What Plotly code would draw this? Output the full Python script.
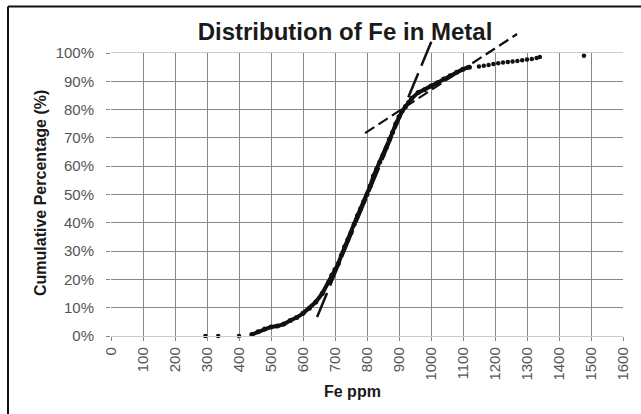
import plotly.graph_objects as go

# ---- data ----
isolated_fe = [295, 335, 400]
isolated_pct = [0, 0, 0]

curve_fe = [440, 460, 480, 500, 520, 540, 560, 580, 600, 620, 640, 660, 680, 690,
            700, 710, 720, 730, 740, 750, 760, 770, 780, 790, 800, 810, 820, 830,
            840, 850, 860, 870, 880, 890, 900, 910, 920, 930, 940, 960, 980, 1000,
            1020, 1040, 1060, 1080, 1100, 1120]
curve_pct = [0.5, 1.5, 2.5, 3.2, 3.5, 4.2, 5.5, 6.5, 8.0, 9.8, 12.0, 15.0, 19.0, 21.5,
             23.5, 25.5, 28.5, 31.5, 34.0, 36.5, 39.5, 42.5, 45.0, 47.5, 50.0, 53.0, 56.5, 59.0,
             61.5, 64.0, 66.5, 69.5, 72.0, 75.0, 77.5, 79.5, 81.0, 82.5, 84.0, 86.0, 87.0, 88.3,
             89.5, 90.8, 92.0, 93.2, 94.3, 95.0]

tail_fe = [1150, 1165, 1180, 1195, 1210, 1225, 1240, 1255, 1270, 1285, 1300, 1315, 1330, 1340, 1478]
tail_pct = [95.2, 95.5, 95.8, 96.1, 96.4, 96.6, 96.8, 97.0, 97.2, 97.4, 97.7, 97.9, 98.2, 98.6, 99.0]

steep_fe = [644, 1003]
steep_pct = [6.7, 104.5]
shallow_fe = [794, 1269]
shallow_pct = [71.7, 106.7]

x_ticks = list(range(0, 1700, 100))
y_ticks = list(range(0, 110, 10))
y_labels = [f"{v}%" for v in y_ticks]

# ---- layout geometry ----
W, H = 641, 414
ML, MR, MT, MB = 111, 18, 30, 78
plot_h = H - MT - MB
main_top = 283 / plot_h  # fraction of plotting height used by 0-100 %

FONT = "Liberation Sans, Arial, sans-serif"
GRID = "#878787"
FRAME = "#cccccc"

fig = go.Figure()

fig.add_trace(go.Scatter(x=isolated_fe, y=isolated_pct, mode="markers",
                         marker=dict(color="#111", size=4.5), xaxis="x", yaxis="y",
                         showlegend=False, cliponaxis=False))
fig.add_trace(go.Scatter(x=curve_fe, y=curve_pct, mode="lines+markers",
                         line=dict(color="#111", width=4), marker=dict(color="#111", size=5),
                         xaxis="x", yaxis="y", showlegend=False, cliponaxis=False))
fig.add_trace(go.Scatter(x=tail_fe, y=tail_pct, mode="markers",
                         marker=dict(color="#111", size=4.5), xaxis="x", yaxis="y",
                         showlegend=False, cliponaxis=False))

# dashed trend lines on an overlay subplot that extends above 100 %
fig.add_trace(go.Scatter(x=steep_fe, y=steep_pct, mode="lines",
                         line=dict(color="#111", width=2.5, dash="26px,8px"),
                         xaxis="x2", yaxis="y2", showlegend=False))
fig.add_trace(go.Scatter(x=shallow_fe, y=shallow_pct, mode="lines",
                         line=dict(color="#111", width=2.2, dash="11px,5px"),
                         xaxis="x2", yaxis="y2", showlegend=False))

fig.update_layout(
    width=W, height=H,
    margin=dict(l=ML, r=MR, t=MT, b=MB, autoexpand=False),
    paper_bgcolor="white", plot_bgcolor="rgba(0,0,0,0)",
    font=dict(family=FONT, color="#555"),
    hovermode=False,
    title=dict(text="<b>Distribution of Fe in Metal</b>", x=345 / W, xanchor="center",
               y=1 - 32 / H, yanchor="middle", font=dict(size=24, color="#1a1a1a", family=FONT)),
    xaxis=dict(domain=[0, 1], range=[0, 1600], anchor="y", tickmode="array", tickvals=x_ticks,
               tickangle=-90, tickfont=dict(size=15, color="#555"), automargin=False,
               showgrid=True, gridcolor=GRID, gridwidth=1.4, zeroline=False,
               showline=True, mirror=True, linecolor=FRAME, linewidth=1.4,
               ticks="outside", ticklen=4, tickcolor=GRID),
    yaxis=dict(domain=[0, main_top], range=[0, 100], anchor="x", tickmode="array",
               tickvals=y_ticks, ticktext=y_labels, automargin=False,
               tickfont=dict(size=15, color="#555"), ticklabelstandoff=9,
               showgrid=True, gridcolor=GRID, gridwidth=1.4, zeroline=False,
               showline=False, ticks="outside", ticklen=4, tickcolor=GRID),
    yaxis3=dict(overlaying="y", side="right", anchor="x", range=[0, 100], automargin=False,
                showline=True, linecolor=FRAME, linewidth=1.4, showgrid=False,
                showticklabels=False, zeroline=False, ticks=""),
    xaxis2=dict(domain=[0, 1], range=[0, 1600], anchor="y2", visible=False, automargin=False),
    yaxis2=dict(domain=[0, 1], range=[0, 100 / main_top], anchor="x2", visible=False,
                automargin=False),
)

# axis titles
fig.add_annotation(text="<b>Cumulative Percentage (%)</b>", xref="paper", yref="paper",
                   x=(40 - ML) / (W - ML - MR), y=(H - MB - 193) / plot_h,
                   textangle=-90, showarrow=False, xanchor="center", yanchor="middle",
                   font=dict(size=16, color="#1a1a1a", family=FONT))
fig.add_annotation(text="<b>Fe ppm</b>", xref="paper", yref="paper",
                   x=(352 - ML) / (W - ML - MR), y=(H - MB - 391) / plot_h,
                   showarrow=False, xanchor="center", yanchor="middle",
                   font=dict(size=16, color="#1a1a1a", family=FONT))

# outer black frame (left and top edges)
pw = W - ML - MR
fx = (8 - ML) / pw
fy_top = (H - MB - 6.5) / plot_h
fig.add_shape(type="line", xref="paper", yref="paper", x0=fx, x1=fx, y0=fy_top,
              y1=(H - MB - H) / plot_h, line=dict(color="#111", width=2))
fig.add_shape(type="line", xref="paper", yref="paper", x0=fx, x1=(W - ML) / pw,
              y0=fy_top, y1=fy_top, line=dict(color="#111", width=2))

fig.write_html("out.html", config={"displayModeBar": False},
               post_script="document.body.style.margin='0px';document.body.style.overflow='hidden';")
